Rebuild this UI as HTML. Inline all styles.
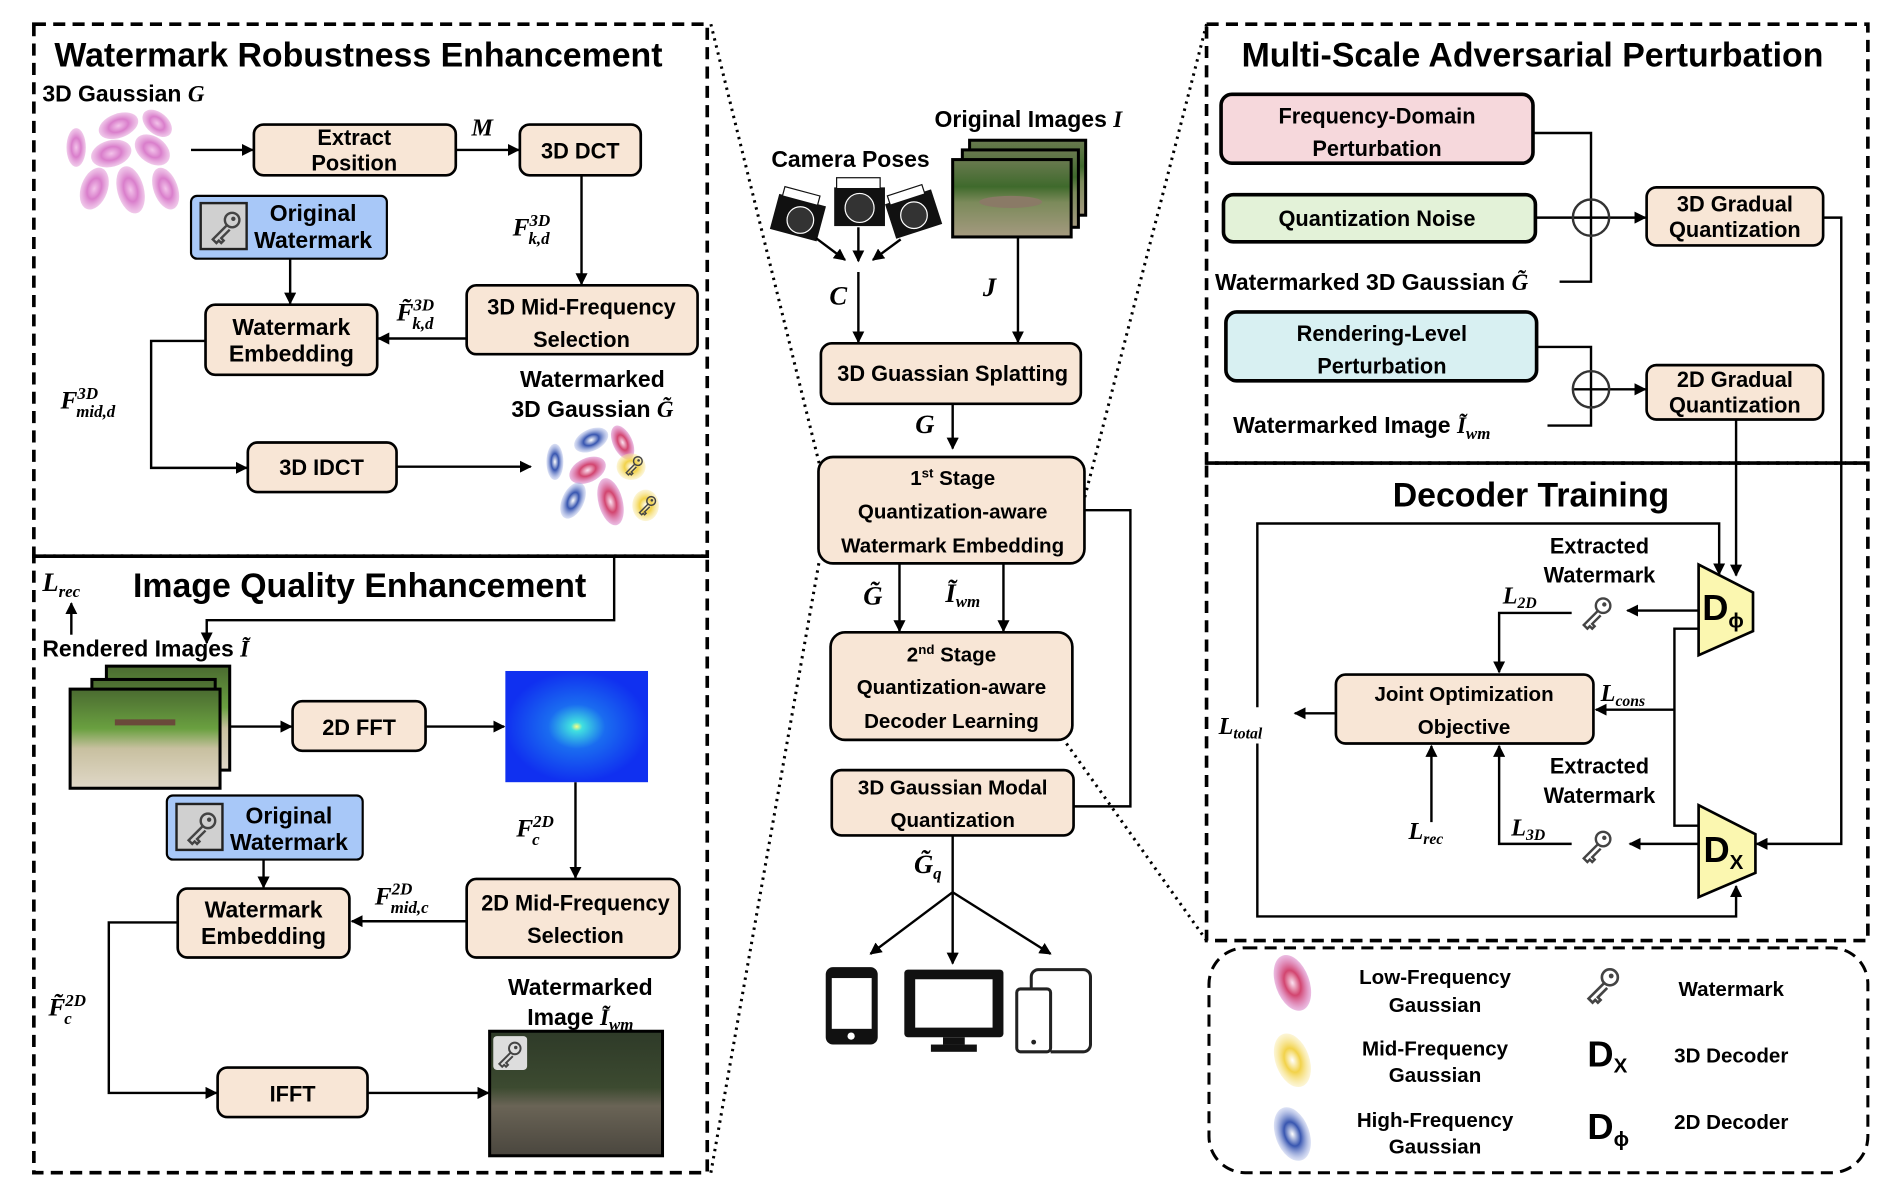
<!DOCTYPE html>
<html><head><meta charset="utf-8"><style>
html,body{margin:0;padding:0;background:#fff;}
svg{display:block}
text{font-family:"Liberation Sans Narrow","Liberation Sans",sans-serif;font-weight:bold;fill:#000}
.w{font-family:"Liberation Sans",sans-serif;font-weight:bold}
.m{font-family:"Liberation Serif",serif;font-style:italic;font-weight:bold}
.b{fill:#f8e6d6;stroke:#000;stroke-width:2.2}
.l{stroke:#000;stroke-width:2;fill:none}
</style></head><body>
<svg width="1886" height="1186" viewBox="0 0 1560 981" xmlns="http://www.w3.org/2000/svg">
<defs>
<marker id="a" markerWidth="10" markerHeight="10" refX="9" refY="5" orient="auto" markerUnits="userSpaceOnUse"><path d="M0,0 L10,5 L0,10 z" fill="#000"/></marker>
<radialGradient id="pk"><stop offset="0" stop-color="#f3c3ea"/><stop offset="0.5" stop-color="#d97ecb"/><stop offset="1" stop-color="#e6a5dc" stop-opacity="0.6"/></radialGradient>
<radialGradient id="rd"><stop offset="0" stop-color="#fbe2f1"/><stop offset="0.45" stop-color="#d2456f"/><stop offset="1" stop-color="#d77ac5" stop-opacity="0.5"/></radialGradient>
<radialGradient id="bl"><stop offset="0" stop-color="#fff"/><stop offset="0.45" stop-color="#3856b0"/><stop offset="1" stop-color="#a9b6e6" stop-opacity="0.4"/></radialGradient>
<radialGradient id="yl"><stop offset="0" stop-color="#fff"/><stop offset="0.45" stop-color="#f2d24a"/><stop offset="1" stop-color="#f8e79a" stop-opacity="0.4"/></radialGradient>
<radialGradient id="fft"><stop offset="0" stop-color="#ffff80"/><stop offset="0.08" stop-color="#40e0e0"/><stop offset="0.4" stop-color="#1a6cf0"/><stop offset="1" stop-color="#1030f0"/></radialGradient>
<linearGradient id="ph" x1="0" y1="0" x2="0" y2="1"><stop offset="0" stop-color="#6a7a50"/><stop offset="0.35" stop-color="#3f6a2c"/><stop offset="0.55" stop-color="#7b8a5a"/><stop offset="1" stop-color="#a59a80"/></linearGradient>
<linearGradient id="ph2" x1="0" y1="0" x2="0" y2="1"><stop offset="0" stop-color="#4a6a30"/><stop offset="0.4" stop-color="#6aa040"/><stop offset="0.6" stop-color="#c8c0a0"/><stop offset="1" stop-color="#e0d8c8"/></linearGradient>
<linearGradient id="ph3" x1="0" y1="0" x2="0" y2="1"><stop offset="0" stop-color="#2e3a28"/><stop offset="0.45" stop-color="#3c4a30"/><stop offset="0.6" stop-color="#6a6456"/><stop offset="1" stop-color="#4a463e"/></linearGradient>
<g id="key"><circle cx="6" cy="-6" r="6" fill="none" stroke="#444" stroke-width="2"/><circle cx="7" cy="-7" r="1.8" fill="#444"/><path d="M2,-2 L-10,10 L-7,13 L-5,11 L-3,13 L-1,11 L-3,9 L4,2" fill="none" stroke="#444" stroke-width="2"/></g>
</defs>

<!-- panels -->
<g fill="none" stroke="#000" stroke-width="3" stroke-dasharray="10,6">
<rect x="28" y="20" width="557" height="440"/>
<rect x="28" y="460" width="557" height="510"/>
<rect x="998" y="20" width="547" height="363"/>
<rect x="998" y="383" width="547" height="395"/>
<rect x="1000" y="784" width="545" height="186" rx="30" stroke-width="2.5"/>
</g>
<g stroke="#000" stroke-width="2.5" stroke-dasharray="2,4" fill="none">
<line x1="588" y1="20" x2="678" y2="385"/><line x1="588" y1="970" x2="678" y2="462"/>
<line x1="998" y1="20" x2="895" y2="420"/><line x1="998" y1="778" x2="880" y2="612"/>
</g>

<!-- ===== Top-left ===== -->
<text x="45" y="55" font-size="28" class="w">Watermark Robustness Enhancement</text>
<text x="35" y="84" font-size="19">3D Gaussian <tspan class="m">G</tspan></text>
<g>
<ellipse cx="98" cy="104" rx="17" ry="10" transform="rotate(-20 98 104)" fill="url(#pk)"/>
<ellipse cx="130" cy="102" rx="14" ry="9" transform="rotate(40 130 102)" fill="url(#pk)"/>
<ellipse cx="63" cy="122" rx="8" ry="16" fill="url(#pk)"/>
<ellipse cx="92" cy="127" rx="17" ry="11" transform="rotate(-15 92 127)" fill="url(#pk)"/>
<ellipse cx="126" cy="124" rx="16" ry="11" transform="rotate(35 126 124)" fill="url(#pk)"/>
<ellipse cx="78" cy="156" rx="11" ry="18" transform="rotate(20 78 156)" fill="url(#pk)"/>
<ellipse cx="108" cy="157" rx="11" ry="20" transform="rotate(-15 108 157)" fill="url(#pk)"/>
<ellipse cx="137" cy="156" rx="10" ry="18" transform="rotate(-20 137 156)" fill="url(#pk)"/>
</g>
<rect class="b" x="210" y="103" width="167" height="42" rx="8"/>
<text x="293" y="120" font-size="18" text-anchor="middle">Extract</text>
<text x="293" y="141" font-size="18" text-anchor="middle">Position</text>
<line class="l" x1="158" y1="124" x2="209" y2="124" marker-end="url(#a)"/>
<line class="l" x1="377" y1="124" x2="429" y2="124" marker-end="url(#a)"/>
<text x="390" y="112" font-size="20" class="m">M</text>
<rect class="b" x="430" y="103" width="100" height="42" rx="8"/>
<text x="480" y="131" font-size="18" text-anchor="middle">3D DCT</text>
<rect x="158" y="162" width="162" height="52" rx="5" fill="#a8c8f8" stroke="#000" stroke-width="1.8"/>
<rect x="166" y="168" width="38" height="38" fill="#d0d0d0" stroke="#222" stroke-width="2"/>
<use href="#key" transform="translate(186,188)"/>
<text x="259" y="183" font-size="19" text-anchor="middle">Original</text>
<text x="259" y="205" font-size="19" text-anchor="middle">Watermark</text>
<text x="424" y="195" font-size="21" class="m">F<tspan font-size="14" dy="-8">3D</tspan><tspan font-size="14" dx="-18" dy="15">k,d</tspan></text>
<line class="l" x1="481" y1="145" x2="481" y2="235" marker-end="url(#a)"/>
<rect class="b" x="386" y="236" width="191" height="57" rx="8"/>
<text x="481" y="260" font-size="18" text-anchor="middle">3D Mid-Frequency</text>
<text x="481" y="287" font-size="18" text-anchor="middle">Selection</text>
<line class="l" x1="386" y1="280" x2="313" y2="280" marker-end="url(#a)"/>
<text x="328" y="265" font-size="21" class="m">F̃<tspan font-size="14" dy="-8">3D</tspan><tspan font-size="14" dx="-18" dy="15">k,d</tspan></text>
<rect class="b" x="170" y="252" width="142" height="58" rx="8"/>
<text x="241" y="277" font-size="19" text-anchor="middle">Watermark</text>
<text x="241" y="299" font-size="19" text-anchor="middle">Embedding</text>
<line class="l" x1="240" y1="214" x2="240" y2="251" marker-end="url(#a)"/>
<polyline class="l" points="170,282 125,282 125,387 204,387" marker-end="url(#a)"/>
<text x="50" y="338" font-size="21" class="m">F<tspan font-size="14" dy="-8">3D</tspan><tspan font-size="14" dx="-18" dy="15">mid,d</tspan></text>
<rect class="b" x="205" y="366" width="123" height="41" rx="8"/>
<text x="266" y="393" font-size="18" text-anchor="middle">3D IDCT</text>
<line class="l" x1="328" y1="386" x2="439" y2="386" marker-end="url(#a)"/>
<text x="490" y="320" font-size="19" text-anchor="middle">Watermarked</text>
<text x="490" y="345" font-size="19" text-anchor="middle">3D Gaussian <tspan class="m">G̃</tspan></text>
<g>
<ellipse cx="459" cy="382" rx="7" ry="15" fill="url(#bl)"/>
<ellipse cx="489" cy="364" rx="15" ry="9" transform="rotate(-25 489 364)" fill="url(#bl)"/>
<ellipse cx="486" cy="389" rx="16" ry="10" transform="rotate(-25 486 389)" fill="url(#rd)"/>
<ellipse cx="515" cy="366" rx="8" ry="15" transform="rotate(-25 515 366)" fill="url(#rd)"/>
<ellipse cx="522" cy="386" rx="12" ry="11" fill="url(#yl)"/>
<ellipse cx="474" cy="414" rx="9" ry="16" transform="rotate(25 474 414)" fill="url(#bl)"/>
<ellipse cx="505" cy="415" rx="10" ry="20" transform="rotate(-15 505 415)" fill="url(#rd)"/>
<ellipse cx="534" cy="418" rx="11" ry="13" fill="url(#yl)"/>
<use href="#key" transform="translate(524,385) scale(0.6)"/>
<use href="#key" transform="translate(535,418) scale(0.6)"/>
</g>

<!-- ===== Bottom-left ===== -->
<text x="35" y="489" font-size="22" class="m">L<tspan font-size="14" dy="5">rec</tspan></text>
<line class="l" x1="59" y1="525" x2="59" y2="499" marker-end="url(#a)"/>
<text x="110" y="494" font-size="28" class="w">Image Quality Enhancement</text>
<polyline class="l" points="508,460 508,513 171,513 171,532" marker-end="url(#a)"/>
<text x="35" y="543" font-size="19">Rendered Images <tspan class="m">Ĩ</tspan></text>
<g stroke="#000" stroke-width="2.5">
<rect x="88" y="551" width="102" height="86" fill="url(#ph2)"/>
<rect x="76" y="562" width="102" height="82" fill="url(#ph2)"/>
<rect x="58" y="570" width="124" height="82" fill="url(#ph2)"/>
</g>
<rect x="95" y="595" width="50" height="5" fill="#6a4a3a"/>
<line class="l" x1="190" y1="601" x2="241" y2="601" marker-end="url(#a)"/>
<rect class="b" x="242" y="580" width="110" height="41" rx="8"/>
<text x="297" y="608" font-size="18" text-anchor="middle">2D FFT</text>
<line class="l" x1="352" y1="601" x2="417" y2="601" marker-end="url(#a)"/>
<rect x="418" y="555" width="118" height="92" fill="url(#fft)"/>
<text x="427" y="692" font-size="21" class="m">F<tspan font-size="14" dy="-8">2D</tspan><tspan font-size="14" dx="-18" dy="15">c</tspan></text>
<line class="l" x1="476" y1="647" x2="476" y2="726" marker-end="url(#a)"/>
<rect x="138" y="658" width="162" height="53" rx="5" fill="#a8c8f8" stroke="#000" stroke-width="1.8"/>
<rect x="146" y="665" width="38" height="38" fill="#d0d0d0" stroke="#222" stroke-width="2"/>
<use href="#key" transform="translate(166,685)"/>
<text x="239" y="681" font-size="19" text-anchor="middle">Original</text>
<text x="239" y="703" font-size="19" text-anchor="middle">Watermark</text>
<rect class="b" x="386" y="727" width="176" height="65" rx="8"/>
<text x="476" y="753" font-size="18" text-anchor="middle">2D Mid-Frequency</text>
<text x="476" y="780" font-size="18" text-anchor="middle">Selection</text>
<line class="l" x1="386" y1="762" x2="291" y2="762" marker-end="url(#a)"/>
<text x="310" y="748" font-size="21" class="m">F<tspan font-size="14" dy="-8">2D</tspan><tspan font-size="14" dx="-18" dy="15">mid,c</tspan></text>
<rect class="b" x="147" y="735" width="142" height="57" rx="8"/>
<text x="218" y="759" font-size="19" text-anchor="middle">Watermark</text>
<text x="218" y="781" font-size="19" text-anchor="middle">Embedding</text>
<line class="l" x1="218" y1="711" x2="218" y2="734" marker-end="url(#a)"/>
<polyline class="l" points="147,763 90,763 90,904 179,904" marker-end="url(#a)"/>
<text x="40" y="840" font-size="21" class="m">F̃<tspan font-size="14" dy="-8">2D</tspan><tspan font-size="14" dx="-18" dy="15">c</tspan></text>
<rect class="b" x="180" y="883" width="124" height="41" rx="8"/>
<text x="242" y="911" font-size="18" text-anchor="middle">IFFT</text>
<line class="l" x1="304" y1="904" x2="404" y2="904" marker-end="url(#a)"/>
<text x="480" y="823" font-size="19" text-anchor="middle">Watermarked</text>
<text x="480" y="848" font-size="19" text-anchor="middle">Image <tspan class="m">Ĩ<tspan font-size="14" dy="4">wm</tspan></tspan></text>
<rect x="405" y="853" width="143" height="103" fill="url(#ph3)" stroke="#000" stroke-width="2.5"/>
<rect x="408" y="857" width="28" height="28" rx="3" fill="#ddd"/>
<use href="#key" transform="translate(421,872) scale(0.8)"/>

<!-- ===== Center ===== -->
<text x="638" y="138" font-size="19" class="w">Camera Poses</text>
<text x="773" y="105" font-size="19" class="w">Original Images <tspan class="m">I</tspan></text>
<g>
<rect x="640" y="165" width="40" height="30" fill="#111" transform="rotate(15 660 180)"/>
<rect x="643" y="158" width="30" height="8" fill="#fff" stroke="#111" transform="rotate(15 660 180)"/>
<circle cx="662" cy="182" r="11" fill="#333" stroke="#fff" stroke-width="1"/>
<rect x="690" y="155" width="42" height="32" fill="#111"/>
<rect x="692" y="147" width="36" height="9" fill="#fff" stroke="#111"/>
<circle cx="711" cy="172" r="12" fill="#333" stroke="#fff" stroke-width="1"/>
<rect x="736" y="162" width="40" height="30" fill="#111" transform="rotate(-18 756 178)"/>
<rect x="740" y="156" width="30" height="8" fill="#fff" stroke="#111" transform="rotate(-18 756 178)"/>
<circle cx="756" cy="178" r="11" fill="#333" stroke="#fff" stroke-width="1"/>
</g>
<line class="l" x1="675" y1="197" x2="699" y2="215" marker-end="url(#a)"/>
<line class="l" x1="710" y1="188" x2="710" y2="216" marker-end="url(#a)"/>
<line class="l" x1="745" y1="198" x2="722" y2="215" marker-end="url(#a)"/>
<g stroke="#000" stroke-width="2.5">
<rect x="802" y="116" width="96" height="62" fill="url(#ph)"/>
<rect x="796" y="124" width="96" height="64" fill="url(#ph)"/>
<rect x="788" y="132" width="98" height="64" fill="url(#ph)"/>
</g>
<ellipse cx="836" cy="167" rx="26" ry="5" fill="#8a7a66"/>
<line class="l" x1="710" y1="225" x2="710" y2="283" marker-end="url(#a)"/>
<text x="686" y="252" font-size="22" class="m">C</text>
<line class="l" x1="842" y1="196" x2="842" y2="283" marker-end="url(#a)"/>
<text x="813" y="245" font-size="22" class="m">J</text>
<rect class="b" x="679" y="284" width="215" height="50" rx="9"/>
<text x="788" y="315" font-size="18" class="w" text-anchor="middle">3D Guassian Splatting</text>
<text x="757" y="358" font-size="22" class="m">G</text>
<line class="l" x1="788" y1="334" x2="788" y2="371" marker-end="url(#a)"/>
<rect class="b" x="677" y="378" width="220" height="88" rx="12"/>
<text x="788" y="401" font-size="17" class="w" text-anchor="middle">1<tspan font-size="11" dy="-6">st</tspan><tspan dy="6"> Stage</tspan></text>
<text x="788" y="429" font-size="17" class="w" text-anchor="middle">Quantization-aware</text>
<text x="788" y="457" font-size="17" class="w" text-anchor="middle">Watermark Embedding</text>
<polyline class="l" points="897,422 935,422 935,667 888,667"/>
<text x="714" y="500" font-size="22" class="m">G̃</text>
<line class="l" x1="744" y1="466" x2="744" y2="522" marker-end="url(#a)"/>
<text x="782" y="498" font-size="22" class="m">Ĩ<tspan font-size="14" dy="4">wm</tspan></text>
<line class="l" x1="830" y1="466" x2="830" y2="522" marker-end="url(#a)"/>
<rect class="b" x="687" y="523" width="200" height="89" rx="12"/>
<text x="787" y="547" font-size="17" class="w" text-anchor="middle">2<tspan font-size="11" dy="-6">nd</tspan><tspan dy="6"> Stage</tspan></text>
<text x="787" y="574" font-size="17" class="w" text-anchor="middle">Quantization-aware</text>
<text x="787" y="602" font-size="17" class="w" text-anchor="middle">Decoder Learning</text>
<rect class="b" x="688" y="637" width="200" height="54" rx="8"/>
<text x="788" y="657" font-size="17" class="w" text-anchor="middle">3D Gaussian Modal</text>
<text x="788" y="684" font-size="17" class="w" text-anchor="middle">Quantization</text>
<text x="756" y="722" font-size="22" class="m">G̃<tspan font-size="14" dy="5">q</tspan></text>
<line class="l" x1="788" y1="691" x2="788" y2="797" marker-end="url(#a)"/>
<line class="l" x1="788" y1="738" x2="720" y2="789" marker-end="url(#a)"/>
<line class="l" x1="788" y1="738" x2="869" y2="789" marker-end="url(#a)"/>
<rect x="683" y="800" width="43" height="64" rx="6" fill="#111"/>
<rect x="688" y="809" width="33" height="42" fill="#fff"/>
<circle cx="704" cy="857" r="3" fill="#fff"/>
<rect x="748" y="802" width="82" height="56" rx="3" fill="#111"/>
<rect x="757" y="810" width="64" height="40" fill="#fff"/>
<rect x="780" y="858" width="18" height="6" fill="#111"/><rect x="770" y="864" width="38" height="6" fill="#111"/>
<rect x="841" y="818" width="28" height="52" rx="3" fill="none" stroke="#222" stroke-width="2.5"/>
<path d="M853,818 V808 a6,6 0 0 1 6,-6 H896 a6,6 0 0 1 6,6 V864 a6,6 0 0 1 -6,6 H869" fill="none" stroke="#222" stroke-width="2.5"/>
<circle cx="855" cy="862" r="2" fill="#222"/>

<!-- ===== Top-right ===== -->
<text x="1027" y="55" font-size="28" class="w">Multi-Scale Adversarial Perturbation</text>
<rect x="1010" y="78" width="258" height="57" rx="9" fill="#f6d8dc" stroke="#000" stroke-width="3"/>
<text x="1139" y="102" font-size="18" text-anchor="middle">Frequency-Domain</text>
<text x="1139" y="129" font-size="18" text-anchor="middle">Perturbation</text>
<rect x="1012" y="161" width="258" height="39" rx="8" fill="#e3f2d8" stroke="#000" stroke-width="3"/>
<text x="1139" y="187" font-size="18" text-anchor="middle">Quantization Noise</text>
<text x="1005" y="240" font-size="19">Watermarked 3D Gaussian <tspan class="m">G̃</tspan></text>
<polyline class="l" points="1268,110 1316,110 1316,233 1290,233"/>
<line class="l" x1="1270" y1="180" x2="1361" y2="180" marker-end="url(#a)"/>
<circle cx="1316" cy="180" r="15" fill="none" stroke="#333" stroke-width="2"/>
<rect class="b" x="1362" y="155" width="146" height="48" rx="8"/>
<text x="1435" y="175" font-size="18" text-anchor="middle">3D Gradual</text>
<text x="1435" y="196" font-size="18" text-anchor="middle">Quantization</text>
<rect x="1014" y="258" width="257" height="57" rx="9" fill="#d8f0f2" stroke="#000" stroke-width="3"/>
<text x="1143" y="282" font-size="18" text-anchor="middle">Rendering-Level</text>
<text x="1143" y="309" font-size="18" text-anchor="middle">Perturbation</text>
<text x="1020" y="358" font-size="19">Watermarked Image <tspan class="m">Ĩ<tspan font-size="14" dy="5">wm</tspan></tspan></text>
<polyline class="l" points="1271,287 1316,287 1316,352 1280,352"/>
<line class="l" x1="1302" y1="322" x2="1361" y2="322" marker-end="url(#a)"/>
<circle cx="1316" cy="322" r="15" fill="none" stroke="#333" stroke-width="2"/>
<rect class="b" x="1362" y="302" width="146" height="45" rx="8"/>
<text x="1435" y="320" font-size="18" text-anchor="middle">2D Gradual</text>
<text x="1435" y="341" font-size="18" text-anchor="middle">Quantization</text>
<line class="l" x1="1436" y1="347" x2="1436" y2="476" marker-end="url(#a)"/>
<polyline class="l" points="1508,180 1523,180 1523,698 1453,698" marker-end="url(#a)"/>

<!-- ===== Decoder Training ===== -->
<text x="1152" y="419" font-size="28" class="w">Decoder Training</text>
<polyline class="l" points="1040,585 1040,433 1422,433 1422,475" marker-end="url(#a)"/>
<polyline class="l" points="1040,615 1040,758 1436,758 1436,733" marker-end="url(#a)"/>
<polygon points="1405,467 1450,490 1450,522 1405,542" fill="#fbf7b0" stroke="#000" stroke-width="2.2"/>
<text x="1408" y="513" font-size="30" class="w">D<tspan font-size="17" dy="6">ϕ</tspan></text>
<polygon points="1405,666 1452,690 1452,722 1405,742" fill="#fbf7b0" stroke="#000" stroke-width="2.2"/>
<text x="1409" y="713" font-size="30" class="w">D<tspan font-size="17" dy="6">X</tspan></text>
<text x="1323" y="458" font-size="18" class="w" text-anchor="middle">Extracted</text>
<text x="1323" y="482" font-size="18" class="w" text-anchor="middle">Watermark</text>
<text x="1243" y="499" font-size="20" class="m">L<tspan font-size="13" dy="4">2D</tspan></text>
<use href="#key" transform="translate(1320,507)"/>
<line class="l" x1="1405" y1="505" x2="1346" y2="505" marker-end="url(#a)"/>
<polyline class="l" points="1300,507 1240,507 1240,556" marker-end="url(#a)"/>
<rect class="b" x="1105" y="558" width="213" height="57" rx="8"/>
<text x="1211" y="580" font-size="17" class="w" text-anchor="middle">Joint Optimization</text>
<text x="1211" y="607" font-size="17" class="w" text-anchor="middle">Objective</text>
<polyline class="l" points="1405,520 1385,520 1385,683 1405,683"/>
<line class="l" x1="1385" y1="587" x2="1320" y2="587" marker-end="url(#a)"/>
<text x="1324" y="580" font-size="20" class="m">L<tspan font-size="13" dy="4">cons</tspan></text>
<line class="l" x1="1105" y1="590" x2="1071" y2="590" marker-end="url(#a)"/>
<text x="1008" y="607" font-size="20" class="m">L<tspan font-size="13" dy="4">total</tspan></text>
<text x="1165" y="694" font-size="20" class="m">L<tspan font-size="13" dy="4">rec</tspan></text>
<line class="l" x1="1184" y1="680" x2="1184" y2="617" marker-end="url(#a)"/>
<text x="1250" y="691" font-size="20" class="m">L<tspan font-size="13" dy="4">3D</tspan></text>
<polyline class="l" points="1300,698 1240,698 1240,617" marker-end="url(#a)"/>
<text x="1323" y="640" font-size="18" class="w" text-anchor="middle">Extracted</text>
<text x="1323" y="664" font-size="18" class="w" text-anchor="middle">Watermark</text>
<use href="#key" transform="translate(1320,700)"/>
<line class="l" x1="1405" y1="698" x2="1348" y2="698" marker-end="url(#a)"/>

<!-- ===== Legend ===== -->
<ellipse cx="1069" cy="813" rx="14" ry="24" transform="rotate(-20 1069 813)" fill="url(#rd)"/>
<ellipse cx="1069" cy="877" rx="14" ry="23" transform="rotate(-20 1069 877)" fill="url(#yl)"/>
<ellipse cx="1069" cy="938" rx="14" ry="23" transform="rotate(-20 1069 938)" fill="url(#bl)"/>
<g class="w" font-size="17" text-anchor="middle">
<text x="1187" y="814" class="w">Low-Frequency</text><text x="1187" y="837" class="w">Gaussian</text>
<text x="1187" y="873" class="w">Mid-Frequency</text><text x="1187" y="895" class="w">Gaussian</text>
<text x="1187" y="932" class="w">High-Frequency</text><text x="1187" y="954" class="w">Gaussian</text>
<text x="1432" y="824" class="w">Watermark</text>
<text x="1432" y="879" class="w">3D Decoder</text>
<text x="1432" y="934" class="w">2D Decoder</text>
</g>
<use href="#key" transform="translate(1325,815) scale(1.1)"/>
<text x="1313" y="882" font-size="30" class="w">D<tspan font-size="17" dy="5">X</tspan></text>
<text x="1313" y="942" font-size="30" class="w">D<tspan font-size="17" dy="6">ϕ</tspan></text>
</svg>
</body></html>
